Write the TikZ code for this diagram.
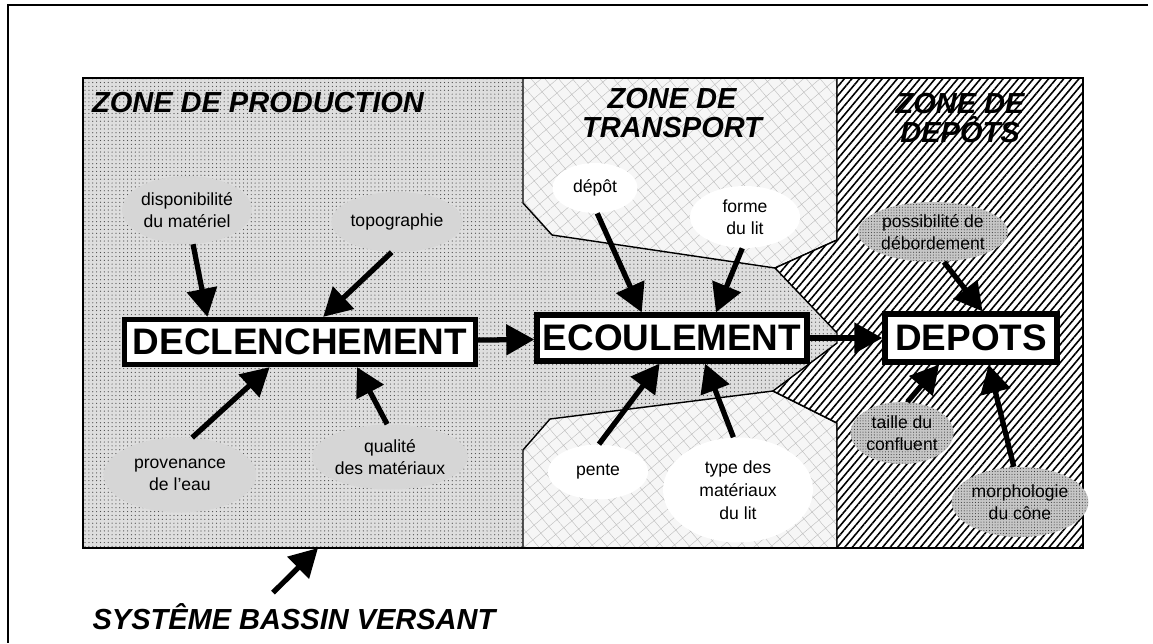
\documentclass[tikz,border=0pt]{standalone}
\usepackage{fontspec}
\setmainfont{Liberation Sans}
\usetikzlibrary{calc,shapes.geometric,patterns.meta,arrows.meta}

\tikzset{
  zoneline/.style={line width=0.8pt},
  prodfill/.style={preaction={fill=gray!26}, pattern={Dots[distance=2.2pt,radius=0.35pt]}, pattern color=gray!60!black},
  transfill/.style={preaction={fill=gray!7}, pattern={Hatch[angle=40,distance=6pt,line width=0.25pt]}, pattern color=gray!50},
  depfill/.style={preaction={fill=white}, pattern={Lines[angle=50,distance=3.3pt,line width=0.9pt]}, pattern color=black},
  cause/.style={ellipse, inner sep=0pt, align=center, font=\fontsize{10}{12.5}\selectfont},
  prodcause/.style={cause, fill=gray!32},
  transcause/.style={cause, fill=white},
  depcause/.style={cause, preaction={fill=gray!45}, pattern={Dots[distance=1.6pt,radius=0.3pt]}, pattern color=gray!40!black},
  stage/.style={draw, line width=3pt, fill=white, inner sep=0pt, font=\fontsize{21}{24}\selectfont\bfseries},
  zonetitle/.style={align=center, font=\fontsize{16.5}{17}\selectfont\bfseries\itshape},
  flow/.style={line width=3pt, -{Triangle[length=16pt,width=17pt]}}
}

\begin{document}
\begin{tikzpicture}[x=0.02cm, y=-0.02cm]
\useasboundingbox (0,0) rectangle (1153,643);
\draw[line width=1.2pt] (1148,5) -- (8,5) -- (8,643);
% zones
\path[prodfill, draw, zoneline] (83,78) rectangle (1083,548);
\path[transfill, draw, zoneline] (523,78) -- (837,78) -- (837,240) -- (775,268) -- (552,235) -- (523,203) -- cycle;
\path[transfill, draw, zoneline] (523,548) -- (523,450) -- (550,419) -- (773,391) -- (837,423) -- (837,548) -- cycle;
\path[depfill, draw, zoneline] (837,78) -- (1083,78) -- (1083,548) -- (837,548) -- (837,423) -- (773,391)
  -- (837,343) -- (837,333) -- (775,268) -- (837,240) -- cycle;
\draw[zoneline] (83,78) rectangle (1083,548);
\coordinate (bv) at (318,548);

\node[zonetitle] (prodtitle) at (258,103) {ZONE DE PRODUCTION};
\node[zonetitle] (transtitle) at (672,113) {ZONE DE\\TRANSPORT};
\node[zonetitle] (deptitle) at (960,118) {ZONE DE\\DEPÔTS};

% stages
\node[stage, minimum width=7.02cm, minimum height=0.9cm] (decl) at (300,342) {DECLENCHEMENT};
\node[stage, minimum width=5.4cm, minimum height=0.92cm] (ecoul) at (672,338) {ECOULEMENT};
\node[stage, minimum width=3.44cm, minimum height=0.96cm] (depots) at (971,338) {DEPOTS};

% causes
\node[prodcause, minimum width=2.4cm, minimum height=1.36cm] (disp) at (187,210) {disponibilité\\du matériel};
\node[prodcause, minimum width=2.54cm, minimum height=1.2cm] (topo) at (397,222) {topographie};
\node[prodcause, minimum width=3.06cm, minimum height=1.5cm] (prov) at (180,475) {provenance\\de l'eau};
\node[prodcause, minimum width=3cm, minimum height=1.3cm] (qual) at (390,457) {qualité\\des matériaux};
\node[transcause, minimum width=1.7cm, minimum height=1cm] (depot) at (595,188) {dépôt};
\node[transcause, minimum width=2.2cm, minimum height=1.24cm] (forme) at (745,217) {forme\\du lit};
\node[transcause, minimum width=2cm, minimum height=1.1cm] (pente) at (598,472) {pente};
\node[transcause, minimum width=3cm, minimum height=2.1cm, font=\fontsize{10}{13}\selectfont] (type) at (738,490) {type des\\matériaux\\du lit};
\node[depcause, minimum width=3cm, minimum height=1.2cm] (poss) at (933,232) {possibilité de\\débordement};
\node[depcause, minimum width=2.06cm, minimum height=1.24cm] (taille) at (902,433) {taille du\\confluent};
\node[depcause, minimum width=2.3cm, minimum height=1.4cm] (morph) at (1020,502) {morphologie\\du cône};

% arrows
\draw[flow] (disp.-80) -- ($(decl.north west)!0.24!(decl.north east)$);
\draw[flow] (topo.-100) -- ($(decl.north west)!0.565!(decl.north east)$);
\draw[flow] (prov.72) -- ($(decl.south west)!0.415!(decl.south east)$);
\draw[flow] (qual.95) -- ($(decl.south west)!0.66!(decl.south east)$);
\draw[flow] (decl) -- (ecoul);
\draw[flow] (depot.-85) -- ($(ecoul.north west)!0.39!(ecoul.north east)$);
\draw[flow] (forme.-95) -- ($(ecoul.north west)!0.66!(ecoul.north east)$);
\draw[flow] (pente.88) -- ($(ecoul.south west)!0.455!(ecoul.south east)$);
\draw[flow] (type.95) -- ($(ecoul.south west)!0.62!(ecoul.south east)$);
\draw[flow] (ecoul) -- (depots);
\draw[flow] (poss.-70) -- ($(depots.north west)!0.565!(depots.north east)$);
\draw[flow] (taille.80) -- ($(depots.south west)!0.32!(depots.south east)$);
\draw[flow] (morph.100) -- ($(depots.south west)!0.6!(depots.south east)$);

\node[zonetitle] (sys) at (294,617) {SYSTÊME BASSIN VERSANT};
\draw[flow] ([xshift=-0.42cm,yshift=0.1cm]sys.north) -- (bv);
\end{tikzpicture}
\end{document}
